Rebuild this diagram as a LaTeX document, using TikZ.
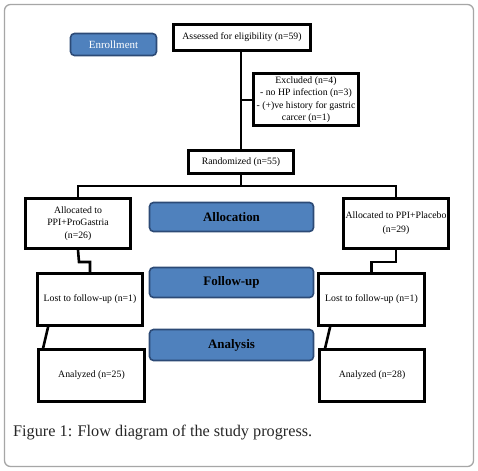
\documentclass[tikz,border=0pt]{standalone}
\usepackage{fontspec}
\setmainfont{Liberation Serif}
\usetikzlibrary{calc}
\definecolor{bluefill}{RGB}{79,129,189}
\definecolor{blueedge}{RGB}{44,74,118}
\tikzset{
  flowbox/.style={draw=black, line width=2.8pt, fill=white, inner sep=0pt, align=center, font=\fontsize{9.8}{11}\selectfont},
  phasebox/.style={draw=blueedge, line width=1.6pt, fill=bluefill, rounded corners=4pt, align=center, inner sep=0pt},
  conn/.style={line width=2.6pt, black},
}
\begin{document}
\begin{tikzpicture}[x=1bp,y=-1bp]
\useasboundingbox (0,0) rectangle (478,471);
\fill[white] (0,0) rectangle (478,471);
\draw[gray!70, line width=1.3pt, rounded corners=6pt] (4.5,4.5) rectangle (473.5,466.5);

% phase boxes
\node[phasebox, minimum width=86bp, minimum height=22bp, text=white, font=\fontsize{11}{12}\selectfont] (enroll) at (113.5,44.5) {Enrollment};
\node[phasebox, minimum width=164bp, minimum height=29bp, font=\bfseries\fontsize{13}{14}\selectfont] (alloc) at (231.5,217) {Allocation};
\node[phasebox, minimum width=164bp, minimum height=30bp, font=\bfseries\fontsize{13}{14}\selectfont] (follow) at (231.5,282.5) {Follow-up};
\node[phasebox, minimum width=164bp, minimum height=31bp, font=\bfseries\fontsize{13}{14}\selectfont] (analysis) at (231.5,345) {Analysis};

% flow boxes
\node[flowbox, minimum width=137bp, minimum height=26bp] (assess) at (242,37.5) {Assessed for eligibility (n=59)};
\node[flowbox, minimum width=105bp, minimum height=52bp, font=\fontsize{9.8}{12.5}\selectfont] (excl) at (306,99.5) {Excluded (n=4)\\- no HP infection (n=3)\\- (+)ve history for gastric\\carcer (n=1)};
\node[flowbox, minimum width=105bp, minimum height=23bp] (rand) at (241,162) {Randomized (n=55)};
\node[flowbox, minimum width=105bp, minimum height=50bp, font=\fontsize{9.8}{12.5}\selectfont] (allocL) at (78,223.5) {Allocated to\\PPI+ProGastria\\(n=26)};
\node[flowbox, minimum width=105bp, minimum height=50bp, font=\fontsize{9.8}{14}\selectfont] (allocR) at (396,223.5) {Allocated to PPI+Placebo\\(n=29)};
\node[flowbox, minimum width=105bp, minimum height=52bp] (lostL) at (90,299.5) {Lost to follow-up (n=1)};
\node[flowbox, minimum width=106bp, minimum height=52bp] (lostR) at (371.5,299.5) {Lost to follow-up (n=1)};
\node[flowbox, minimum width=106bp, minimum height=52bp] (anL) at (91.5,375.5) {Analyzed (n=25)};
\node[flowbox, minimum width=105bp, minimum height=52bp] (anR) at (372,375.5) {Analyzed (n=28)};

% connectors
\coordinate (split) at (241,186);
\coordinate (exj) at (241,100);
\coordinate (jl) at (79,262);
\coordinate (jr) at (396,262);
\draw[conn] (assess.south -| rand.north) -- (rand.north);
\draw[conn] (exj) -- (exj -| excl.west);
\draw[conn] (rand.south) -- (split);
\draw[conn] (allocL.north) -- (allocL.north |- split) -- (allocR.north |- split) -- (allocR.north);
\draw[conn] (allocL.south) -- (jl) -- (jl -| lostL.north) -- (lostL.north);
\draw[conn] (allocR.south) -- (jr) -- (jr -| lostR.north) -- (lostR.north);
\draw[conn] ($(lostL.south west)+(12,0)$) -- ($(anL.north west)+(6,0)$);
\draw[conn] ($(lostR.south west)+(13,0)$) -- ($(anR.north west)+(7,0)$);

% caption
\node[anchor=base west, inner sep=0pt, font=\fontsize{16.3}{18}\selectfont, text=black!85] (cap) at (13,436) {Figure 1: Flow diagram of the study progress.};
\end{tikzpicture}
\end{document}
